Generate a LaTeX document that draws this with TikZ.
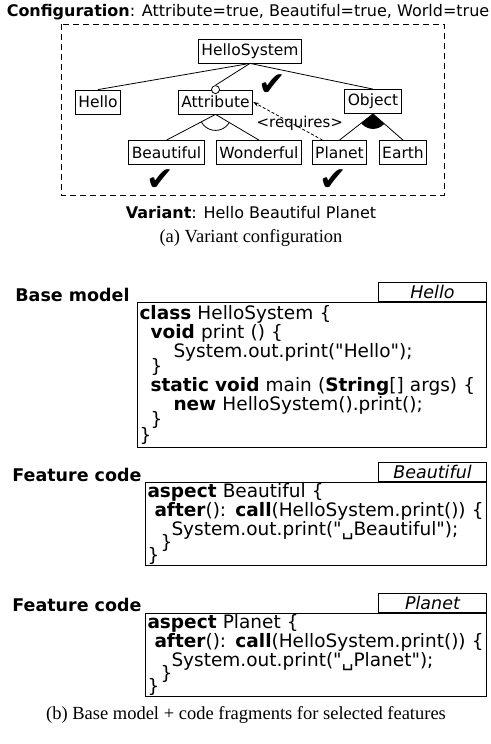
\documentclass[tikz,border=0pt]{standalone}
\usepackage{fontspec}
\setmainfont{DejaVu Sans}
\newfontfamily\codefont{DejaVu Sans}[Ligatures=TeXOff]
\newfontfamily\capfont{Liberation Serif}
\usetikzlibrary{arrows.meta,positioning}

\begin{document}
\begin{tikzpicture}[x=1pt,y=1pt, line width=0.8pt,
	feat/.style={draw, rectangle, inner xsep=3pt, inner ysep=0pt, minimum height=24pt, font=\fontsize{15.5}{17}\selectfont},
	optc/.style={draw, circle, fill=white, inner sep=0pt, minimum size=8pt},
	chk/.style={inner sep=0pt, font=\fontsize{33}{33}\selectfont},
	req/.style={-{Stealth[length=6pt,width=4pt]}, dash pattern={on 3pt off 2pt}},
	frame/.style={dash pattern={on 6pt off 4pt}},
	head/.style={inner sep=0pt, font=\fontsize{16}{18}\selectfont},
	lbl/.style={inner sep=0pt, anchor=west, font=\bfseries\fontsize{17.5}{19}\selectfont},
	code/.style={draw, line width=1pt, anchor=north west, align=left, inner xsep=2pt, inner ysep=1pt, font=\codefont\fontsize{18.5}{19}\selectfont},
	tab/.style={draw, line width=1pt, anchor=south east, minimum width=108pt, minimum height=19pt, inner sep=0pt, font=\itshape\fontsize{17.5}{19}\selectfont},
	captxt/.style={inner sep=0pt, font=\capfont\fontsize{18.5}{20}\selectfont}]
	\useasboundingbox (0,0) rectangle (490,-744);

	%(a) feature model
	\node[head] (config) at (248,-12) {\textbf{Configuration}: Attribute=true, Beautiful=true, World=true};
	\draw[frame] (61,-24) rectangle (444,-195);	%configuration frame

	\node[feat] (root) at (250,-51) {HelloSystem};
	\node[feat] (hello) at (98,-102) {Hello};
	\node[feat] (attr) at (215.5,-102) {Attribute};
	\node[feat] (obj) at (373,-101.5) {Object};
	\node[feat] (beau) at (166.5,-152.5) {Beautiful};
	\node[feat] (wond) at (259,-152.5) {Wonderful};
	\node[feat] (planet) at (339.5,-152.5) {Planet};
	\node[feat] (earth) at (403,-152.5) {Earth};
	\node[optc] (attrOpt) at (attr.north) {};

	\draw (root.south) -- (hello.north);
	\draw (root.south) -- (attrOpt.north);
	\draw (root.south) -- (obj.north);
	\draw (attr.south) -- (beau.north);
	\draw (attr.south) -- (wond.north);
	\draw (obj.south) -- (planet.north);
	\draw (obj.south) -- (earth.north);

	%alternative group
	\begin{scope}
		\clip (attr.south) -- (beau.north) -- (wond.north) -- cycle;
		\draw (attr.south) circle (16pt);
	\end{scope}
	%or group
	\begin{scope}
		\clip (obj.south) -- (planet.north) -- (earth.north) -- cycle;
		\fill (obj.south) circle (15pt);
	\end{scope}

	\draw[req] ([xshift=-17pt]planet.north) -- node[pos=0.4, xshift=5pt, yshift=2pt, inner sep=0pt, font=\fontsize{15}{17}\selectfont] (reqLbl) {<requires>} (attr.east);

	%selections
	\node[chk] (chkAttr) at (272,-85) {✔};
	\node[chk] (chkBeau) at (160,-180) {✔};
	\node[chk] (chkPlanet) at (333,-180) {✔};

	\node[head] (variant) at (251,-213) {\textbf{Variant}: Hello Beautiful Planet};
	\node[captxt] (capA) at (251,-238) {(a) Variant configuration};

	%(b) code
	\node[lbl] (lblBase) at (15,-295) {Base model};
	\node[code, text width=345pt, minimum height=145pt] (baseCode) at (137,-302) {%
		\textbf{class} HelloSystem \{\\
		\hspace*{11pt}\textbf{void} print () \{\\
		\hspace*{34pt}System.out.print("Hello");\\[-4pt]
		\hspace*{11pt}\}\\
		\hspace*{11pt}\textbf{static void} main (\textbf{String}[] args) \{\\
		\hspace*{34pt}\textbf{new} HelloSystem().print();\\[-4pt]
		\hspace*{11pt}\}\\[-3pt]
		\}};
	\node[tab] (tabHello) at (baseCode.north east) {Hello};

	\node[lbl] (lblBeau) at (12,-475) {Feature code};
	\node[code, text width=337pt, minimum height=78pt] (beauCode) at (145,-482) {%
		\textbf{aspect} Beautiful \{\\
		\mbox{\hspace*{7pt}\textbf{after}(): \textbf{call}(HelloSystem.print()) \{}\\
		\hspace*{24pt}System.out.print("\textvisiblespace Beautiful");\\[-6pt]
		\hspace*{13pt}\}\\[-6pt]
		\}};
	\node[tab] (tabBeau) at (beauCode.north east) {Beautiful};

	\node[lbl] (lblPlanet) at (12,-605) {Feature code};
	\node[code, text width=337pt, minimum height=78pt] (planetCode) at (145,-613) {%
		\textbf{aspect} Planet \{\\
		\mbox{\hspace*{7pt}\textbf{after}(): \textbf{call}(HelloSystem.print()) \{}\\
		\hspace*{24pt}System.out.print("\textvisiblespace Planet");\\[-6pt]
		\hspace*{13pt}\}\\[-6pt]
		\}};
	\node[tab] (tabPlanet) at (planetCode.north east) {Planet};

	\node[captxt] (capB) at (246,-715) {(b) Base model + code fragments for selected features};
\end{tikzpicture}
\end{document}
